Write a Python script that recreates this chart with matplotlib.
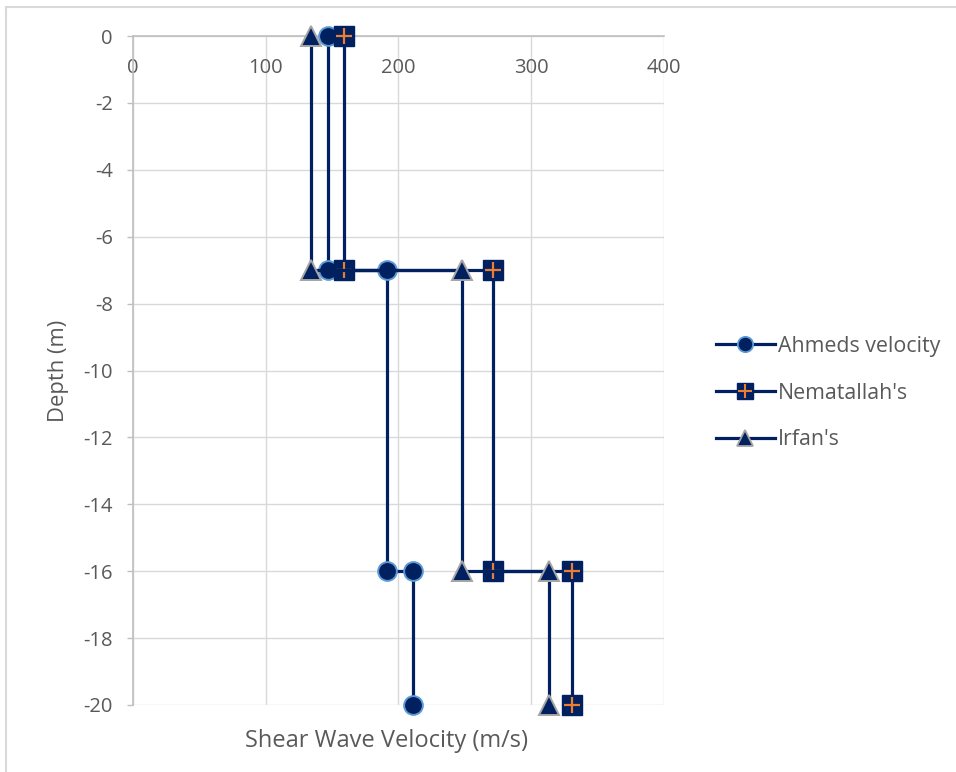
import matplotlib
matplotlib.use("Agg")
import matplotlib.pyplot as plt
from matplotlib.lines import Line2D
from matplotlib.legend_handler import HandlerTuple

# step profiles: velocity (m/s) against depth (m)
depth = [0, -7, -7, -16, -16, -20]
ahmed_vs = [147, 147, 191, 191, 211, 211]
nematallah_vs = [159, 159, 271, 271, 331, 331]
irfan_vs = [134, 134, 248, 248, 313, 313]

x_ticks = [0, 100, 200, 300, 400]
y_ticks = list(range(0, -21, -2))

NAVY = "#002060"
TXT = "#595959"
GRID = "#D9D9D9"
AXIS = "#BFBFBF"

plt.rcParams["font.family"] = ["Open Sans", "DejaVu Sans"]
plt.rcParams["axes.unicode_minus"] = False

fig = plt.figure(figsize=(9.56, 7.72), dpi=100)
ax = fig.add_axes([133 / 956, 1 - 705 / 772, 531 / 956, 669 / 772])

line_kw = dict(color=NAVY, lw=2.3, clip_on=False, zorder=3)
ax.plot(ahmed_vs, depth, marker="o", ms=13.5, mfc=NAVY, mec="#5B9BD5", mew=1.4, **line_kw)
ax.plot(nematallah_vs, depth, marker="s", ms=14, mfc=NAVY, mec=NAVY, mew=1, **line_kw)
ax.plot(nematallah_vs, depth, ls="none", marker="+", ms=11.5, mec="#ED7D31", mew=1.6,
        clip_on=False, zorder=3)
ax.plot(irfan_vs, depth, marker="^", ms=14, mfc=NAVY, mec="#A5A5A5", mew=1.4, **line_kw)

ax.set_xlim(0, 400)
ax.set_ylim(-20, 0)
ax.set_xticks(x_ticks)
ax.set_yticks(y_ticks)
ax.grid(True, color=GRID, lw=1.0, zorder=0)
ax.set_axisbelow(True)

for s in ["right", "bottom"]:
    ax.spines[s].set_visible(False)
for s in ["top", "left"]:
    ax.spines[s].set_color(AXIS)
    ax.spines[s].set_linewidth(1.2)

ax.xaxis.tick_top()
ax.tick_params(axis="x", length=0, pad=-30, labelsize=14.5, labelcolor=TXT)
ax.tick_params(axis="y", length=4.5, width=1, color=AXIS, pad=10,
               labelsize=14.5, labelcolor=TXT)

ax.set_xlabel("Shear Wave Velocity (m/s)", fontsize=17, color=TXT)
ax.xaxis.set_label_position("bottom")
ax.xaxis.set_label_coords(0.478, -0.036)
ax.set_ylabel("Depth (m)", fontsize=15.8, color=TXT)
ax.yaxis.set_label_coords(-0.12, 0.5)

# legend handles
h_a = Line2D([], [], color=NAVY, lw=2.3, marker="o", ms=11, mfc=NAVY, mec="#5B9BD5", mew=1.3)
h_n = Line2D([], [], color=NAVY, lw=2.3, marker="s", ms=11.5, mfc=NAVY, mec=NAVY)
h_np = Line2D([], [], ls="none", marker="+", ms=9.5, mec="#ED7D31", mew=1.5)
h_i = Line2D([], [], color=NAVY, lw=2.3, marker="^", ms=11.5, mfc=NAVY, mec="#A5A5A5", mew=1.3)
fig.legend([h_a, (h_n, h_np), h_i], ["Ahmeds velocity", "Nematallah's", "Irfan's"],
           handler_map={tuple: HandlerTuple(ndivide=1, pad=0)},
           loc="center left", bbox_to_anchor=(716 / 956, 1 - 393 / 772),
           frameon=False, fontsize=15.4, labelcolor=TXT, handlelength=2.75,
           handletextpad=0.15, labelspacing=1.2, borderpad=0, borderaxespad=0)

# chart frame (left and top edges)
fig.add_artist(Line2D([6 / 956, 6 / 956], [0, 1 - 7 / 772], color=GRID, lw=1.5))
fig.add_artist(Line2D([6 / 956, 955 / 956], [1 - 7 / 772, 1 - 7 / 772], color=GRID, lw=1.5))

fig.savefig("out.png", dpi=100)
